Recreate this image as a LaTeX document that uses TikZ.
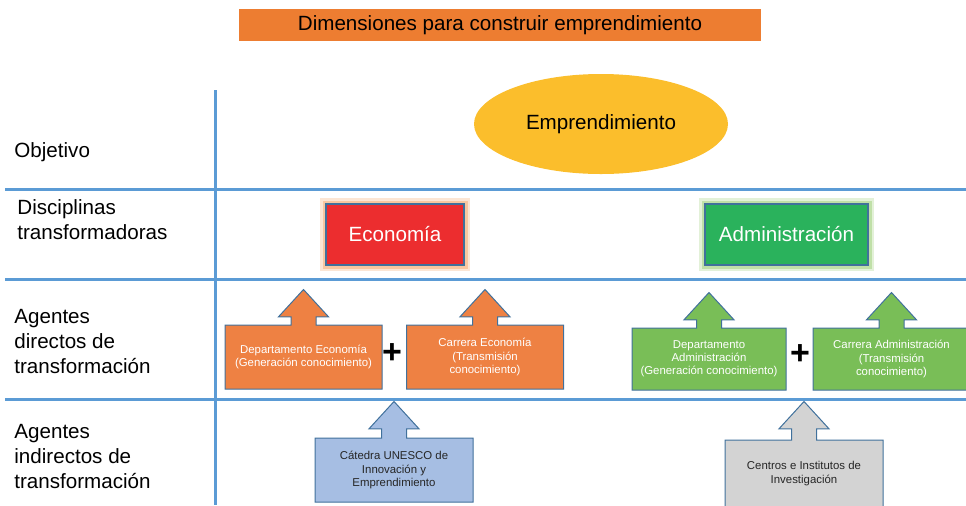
\documentclass[tikz,border=0pt]{standalone}
\usepackage{fontspec}
\setmainfont{Liberation Sans}
\usetikzlibrary{shapes.geometric,shapes.arrows}
\definecolor{gridblue}{HTML}{5B9BD5}
\definecolor{edgeblue}{HTML}{41719C}
\definecolor{titleorange}{HTML}{ED7D31}
\definecolor{agentorange}{HTML}{EE8143}
\definecolor{ecored}{HTML}{EC2D2F}
\definecolor{ecoglow}{HTML}{F9C7A0}
\definecolor{admgreen}{HTML}{2AB25C}
\definecolor{admglow}{HTML}{C0E0A8}
\definecolor{agentgreen}{HTML}{79BE57}
\definecolor{unescoblue}{HTML}{A6BEE3}
\definecolor{centergray}{HTML}{D3D3D3}
\definecolor{goalyellow}{HTML}{FBBE2C}
\def\labelfont{\fontsize{10.3}{12.5}\selectfont}
\def\boxfont{\fontsize{5.7}{6.6}\selectfont}
\tikzset{
  rowlabel/.style={anchor=west, align=left, inner sep=0pt, font=\labelfont},
  discbox/.style={draw=edgeblue, line width=0.6pt, text=white, minimum height=30.5pt, font=\labelfont},
  glow/.style={preaction={draw=#1!45, line width=6pt}, preaction={draw=#1, line width=3.5pt}},
  agentbox/.style={arrow box, draw=edgeblue, line width=0.5pt, align=center, font=\boxfont,
    minimum width=78.5pt, minimum height=32pt, arrow box shaft width=12.5pt,
    arrow box head extend=6.25pt, arrow box tip angle=85,
    arrow box south arrow=-1pt, arrow box east arrow=-1pt, arrow box west arrow=-1pt},
  plussign/.style={font=\fontsize{17}{17}\selectfont\bfseries}
}

\begin{document}
\begin{tikzpicture}[x=0.5pt,y=-0.5pt]
\useasboundingbox (0,0) rectangle (966,505);
\clip (0,0) rectangle (966,505);
\draw[gridblue, line width=1.5pt] (5,189) -- (966,189) (5,279) -- (966,279) (5,399) -- (966,399);
\draw[gridblue, line width=1.5pt] (215,90) -- (215,505);

\node[fill=titleorange, minimum width=261pt, minimum height=16pt, font=\labelfont] (title) at (500,25) {Dimensiones para construir emprendimiento};

\node[rowlabel] (objetivo) at (14,152) {Objetivo};
\node[rowlabel] (disciplinas) at (17,219.5) {Disciplinas\\transformadoras};
\node[rowlabel] (directos) at (14,342) {Agentes\\directos de\\transformación};
\node[rowlabel] (indirectos) at (14,457) {Agentes\\indirectos de\\transformación};

\node[ellipse, fill=goalyellow, minimum width=127pt, minimum height=50pt, font=\labelfont] (goal) at (601,124) {Emprendimiento};

\node[discbox, fill=ecored, minimum width=69pt, glow=ecoglow] (economia) at (395,234.5) {Economía};
\node[discbox, fill=admgreen, minimum width=81.5pt, glow=admglow] (administracion) at (786.5,234.5) {Administración};

\node[agentbox, fill=agentorange, text=white, arrow box north arrow=17.5pt] (depeco) at (303.5,357) {Departamento Economía\\(Generación conocimiento)};
\node[agentbox, fill=agentorange, text=white, arrow box north arrow=17.5pt] (careco) at (485,357) {Carrera Economía\\(Transmisión\\conocimiento)};
\node[plussign] (pluseco) at (392,354) {+};

\node[agentbox, fill=agentgreen, text=white, minimum width=77pt, minimum height=31pt, arrow box north arrow=17.5pt] (depadm) at (709,359) {Departamento\\Administración\\(Generación conocimiento)};
\node[agentbox, fill=agentgreen, text=white, minimum width=78.5pt, minimum height=31pt, arrow box north arrow=17.5pt] (caradm) at (891.5,359) {Carrera Administración\\(Transmisión\\conocimiento)};
\node[plussign] (plusadm) at (800,355) {+};

\node[agentbox, fill=unescoblue, text=black!85, minimum width=79pt, arrow box north arrow=18pt] (unesco) at (394,470) {Cátedra UNESCO de\\Innovación y\\Emprendimiento};
\node[agentbox, fill=centergray, text=black!85, minimum width=79pt, minimum height=33.5pt, arrow box north arrow=19pt] (centros) at (804,473.5) {Centros e Institutos de\\Investigación};
\end{tikzpicture}
\end{document}
